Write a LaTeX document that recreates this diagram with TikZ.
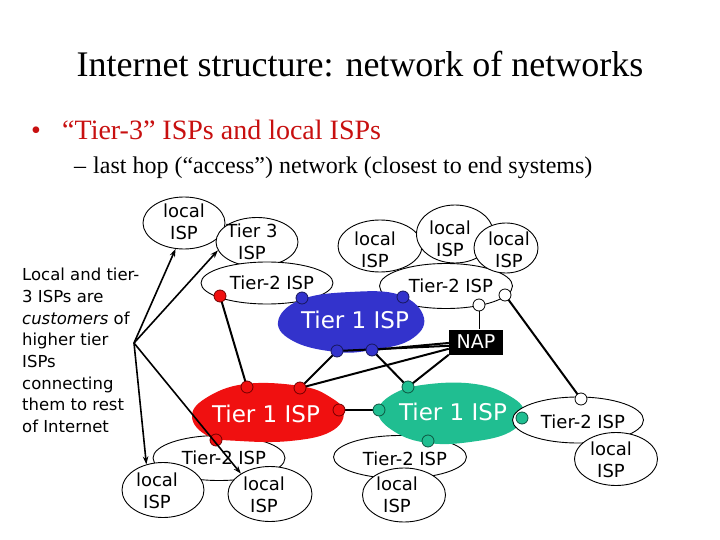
\documentclass[tikz,border=0pt]{standalone}
\usepackage{fontspec}
\setmainfont{Liberation Serif}
\newfontfamily\comic{DejaVu Sans}
\usetikzlibrary{shapes.geometric,arrows.meta}
\definecolor{tblue}{RGB}{51,51,204}
\definecolor{tred}{RGB}{240,16,16}
\definecolor{tteal}{RGB}{32,190,145}
\definecolor{bred}{RGB}{200,16,16}
\begin{document}
\begin{tikzpicture}[x=1pt,y=-1pt,
  isp/.style={draw=black, line width=0.9pt, fill=white, ellipse, inner sep=0pt},
  isptext/.style={font=\comic\fontsize{18}{21.5}\selectfont, align=center, inner sep=0pt},
  tonetext/.style={font=\comic\fontsize{23}{26}\selectfont, text=white, inner sep=0pt},
  router/.style={circle, draw, line width=0.8pt, inner sep=0pt, minimum size=12pt},
  redr/.style={router, fill=tred, draw=red!45!black},
  bluer/.style={router, fill=tblue, draw=tblue!45!black},
  tealr/.style={router, fill=tteal, draw=tteal!45!black},
  whiter/.style={router, fill=white, draw=black},
  link/.style={line width=2pt, black},
  thinlink/.style={line width=0.9pt, black},
  custarrow/.style={line width=1.6pt, -{Stealth[length=8pt,width=5.5pt]}}
]
\useasboundingbox (0,0) rectangle (720,540);
\fill[white] (0,0) rectangle (720,540);

% headings
\node[anchor=base, inner sep=0pt, font=\fontsize{36}{40}\selectfont] (title) at (360,77) {Internet structure: network of networks};
\node[anchor=base, inner sep=0pt, font=\fontsize{28}{32}\selectfont, text=bred] (bul) at (36,140) {•};
\node[anchor=base west, inner sep=0pt, font=\fontsize{28}{32}\selectfont, text=bred] (b1) at (62,140) {“Tier-3” ISPs and local ISPs};
\node[anchor=base, inner sep=0pt, font=\fontsize{24}{28}\selectfont] (dash) at (80,174) {–};
\node[anchor=base west, inner sep=0pt, font=\fontsize{24}{28}\selectfont] (sub) at (93,174) {last hop (“access”) network (closest to end systems)};

% left note
\node[anchor=north west, inner sep=0pt, align=left, font=\comic\fontsize{16.5}{21.7}\selectfont] (note) at (22,268) {Local and tier-\\3 ISPs are\\\textit{customers} of\\higher tier\\ISPs\\connecting\\them to rest\\of Internet};

% upper left group
\node[isp, minimum width=82pt, minimum height=52pt] (L1) at (184,223) {};
\node[isp, minimum width=82pt, minimum height=49pt] (T3) at (257,242) {};
\node[isp, minimum width=132pt, minimum height=42pt] (T2a) at (267,283) {};
\node[isptext] (L1t) at (184,222) {local\\ISP};
\node[isptext] (T3t) at (252,242) {Tier 3\\ISP};
\node[isptext] (T2at) at (272,283) {Tier-2 ISP};

% upper right group
\node[isp, minimum width=133pt, minimum height=45pt] (T2b) at (446,286) {};
\node[isp, minimum width=84pt, minimum height=52pt] (L2) at (380,246) {};
\node[isp, minimum width=77pt, minimum height=58pt] (L3) at (455,234) {};
\node[isp, minimum width=64pt, minimum height=50pt] (L4) at (506,248) {};
\node[isptext] (L2t) at (375,250) {local\\ISP};
\node[isptext] (L3t) at (450,239) {local\\ISP};
\node[isptext] (L4t) at (509,250) {local\\ISP};
\node[isptext] (T2bt) at (451,286) {Tier-2 ISP};

% blue tier 1
\fill[tblue] plot[smooth cycle, tension=0.7] coordinates {(278,322) (300,300) (350,292) (400,295) (424,318) (410,340) (372,350) (337,352) (295,342)};
\node[tonetext] (blueT) at (355,320) {Tier 1 ISP};

% bottom left group
\node[isp, minimum width=132pt, minimum height=45pt] (T2c) at (219,458) {};
\fill[tred] plot[smooth cycle, tension=0.7] coordinates {(192,417) (206,398) (245,384) (300,386) (330,397) (344,413) (330,432) (290,441) (240,441) (208,436)};
\node[tonetext] (redT) at (266,414) {Tier 1 ISP};
\node[isptext] (T2ct) at (224,458) {Tier-2 ISP};
\node[isp, minimum width=82pt, minimum height=55pt] (L5) at (163,490) {};
\node[isp, minimum width=84pt, minimum height=55pt] (L6) at (270,494) {};
\node[isptext] (L5t) at (157,491) {local\\ISP};
\node[isptext] (L6t) at (264,495) {local\\ISP};

% bottom middle group
\node[isp, minimum width=133pt, minimum height=43pt] (T2d) at (400,457) {};
\fill[tteal] plot[smooth cycle, tension=0.7] coordinates {(378,412) (395,393) (430,384) (475,384) (508,395) (524,412) (510,432) (470,442) (428,443) (395,432)};
\node[tonetext] (tealT) at (453,412) {Tier 1 ISP};
\node[isptext] (T2dt) at (405,459) {Tier-2 ISP};
\node[isp, minimum width=83pt, minimum height=54pt] (L7) at (404,495) {};
\node[isptext] (L7t) at (397,495) {local\\ISP};

% right group
\node[isp, minimum width=131pt, minimum height=46pt] (T2e) at (578,420) {};
\node[isptext] (T2et) at (583,422) {Tier-2 ISP};
\node[isp, minimum width=83pt, minimum height=53pt] (L8) at (616,459) {};
\node[isptext] (L8t) at (611,460) {local\\ISP};

% NAP
\node[fill=black, minimum width=54pt, minimum height=25pt, inner sep=0pt, text=white, font=\comic\fontsize{19}{22}\selectfont] (NAP) at (476,342) {NAP};

% router positions (for links)
\coordinate (R1) at (220,296);
\coordinate (R2) at (247,387);
\coordinate (R3) at (300,388);
\coordinate (R4) at (339,410);
\coordinate (B3) at (337,351);
\coordinate (B4) at (372,350);
\coordinate (Tt1) at (408,387);
\coordinate (Tt2) at (379,410);
\coordinate (W1) at (479,305);
\coordinate (W2) at (505,295);
\coordinate (W3) at (581,399);

% links
\draw[link] (R1) -- (R2);
\draw[link] (R3) -- (B3);
\draw[link] (R3) -- (NAP.194.5);
\draw[link] (B3) -- (NAP.188.4);
\draw[link] (B4) -- (NAP.182);
\draw[link] (B4) -- (Tt1);
\draw[link] (Tt1) -- (NAP.south west);
\draw[link] (R4) -- (Tt2);
\draw[thinlink] (W1) -- (W1 |- NAP.north);
\draw[link] (W2) -- (W3);

% routers
\node[redr] (r1) at (R1) {};
\node[redr] (r2) at (R2) {};
\node[redr] (r3) at (R3) {};
\node[redr] (r4) at (R4) {};
\node[redr] (r5) at (216,440) {};
\node[bluer] (b1r) at (302,298) {};
\node[bluer] (b2r) at (403,297) {};
\node[bluer] (b3r) at (B3) {};
\node[bluer] (b4r) at (B4) {};
\node[tealr] (t1r) at (Tt1) {};
\node[tealr] (t2r) at (Tt2) {};
\node[tealr] (t3r) at (428,441) {};
\node[tealr] (t4r) at (522,418) {};
\node[whiter] (w1r) at (W1) {};
\node[whiter] (w2r) at (W2) {};
\node[whiter] (w3r) at (W3) {};

% customer arrows
\coordinate (hub) at (134,343);
\draw[custarrow] (hub) -- (L1.252);
\draw[custarrow] (hub) -- (T3.192);
\draw[custarrow] (hub) -- (L5.123);
\draw[custarrow] (hub) -- (L6.145);
\end{tikzpicture}
\end{document}
